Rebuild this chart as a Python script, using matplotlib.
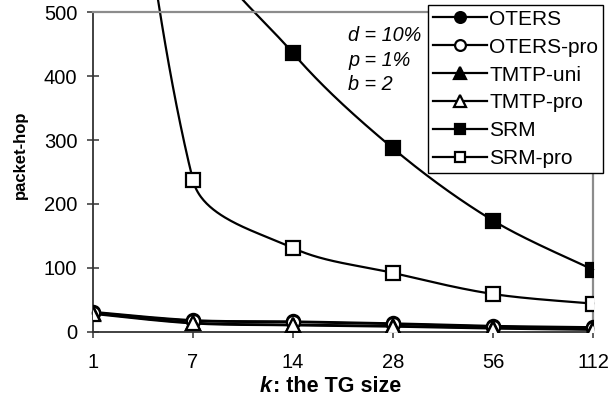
import numpy as np
import matplotlib
matplotlib.use("Agg")
import matplotlib.pyplot as plt
from matplotlib.lines import Line2D
from matplotlib.offsetbox import TextArea, HPacker, AnnotationBbox

plt.rcParams['font.family'] = ['Liberation Sans', 'DejaVu Sans']

# ---- data ----
k_labels = ['1', '7', '14', '28', '56', '112']
oters = [31, 18, 16, 13, 9, 7]
oters_pro = [30, 17, 15, 12, 8, 6]
tmtp_uni = [29, 14, 11, 9, 6, 4]
tmtp_pro = [28, 13, 10, 8, 5, 3]
srm = [2000, 650, 436, 287, 174, 97]
srm_pro = [1400, 237, 131, 92, 59, 44]

series_names = ['OTERS', 'OTERS-pro', 'TMTP-uni', 'TMTP-pro', 'SRM', 'SRM-pro']
series_values = [oters, oters_pro, tmtp_uni, tmtp_pro, srm, srm_pro]
series_markers = ['o', 'o', '^', '^', 's', 's']
series_faces = ['black', 'white', 'black', 'white', 'black', 'white']

W, H = 612, 398
fig = plt.figure(figsize=(W / 100, H / 100), dpi=100)
ax = fig.add_axes([93 / W, 1 - 331.7 / H, 500 / W, 319.4 / H])
ax.set_xlim(0, len(k_labels) - 1)
ax.set_ylim(0, 500)

# screen-space scale used only for the smoothing geometry
XS = 100.0
YS = 319.4 / 500.0


def excel_smooth(vals, n=80):
    pts = np.column_stack([np.arange(len(vals)) * XS, np.asarray(vals, float) * YS])
    m = len(pts)
    xs, ys = [], []
    for i in range(m - 1):
        P0, P1 = pts[i], pts[i + 1]
        d01 = np.linalg.norm(P1 - P0)
        if i > 0:
            prev = pts[i - 1]
            dp = np.linalg.norm(P0 - prev)
            C0 = P0 + (P1 - prev) * d01 / (dp + d01) / 3.0
        else:
            C0 = P0 + (P1 - P0) / 6.0
        if i + 2 < m:
            nxt = pts[i + 2]
            dn = np.linalg.norm(nxt - P1)
            C1 = P1 - (nxt - P0) * d01 / (d01 + dn) / 3.0
        else:
            C1 = P1 - (P1 - P0) / 6.0
        t = np.linspace(0, 1, n)[:, None]
        B = ((1 - t) ** 3) * P0 + 3 * ((1 - t) ** 2) * t * C0 + 3 * (1 - t) * t ** 2 * C1 + t ** 3 * P1
        xs.append(B[:, 0]); ys.append(B[:, 1])
    return np.concatenate(xs) / XS, np.concatenate(ys) / YS


idx = np.arange(len(k_labels))
handles = []
for name, vals, mk, fc in zip(series_names, series_values, series_markers, series_faces):
    sx, sy = excel_smooth(vals)
    ax.plot(sx, sy, color='black', lw=1.6, clip_on=False, zorder=2)
    ms = 9.5 if mk != '^' else 10
    ax.plot(idx, vals, linestyle='none', marker=mk, markersize=ms, markerfacecolor=fc,
            markeredgecolor='black', markeredgewidth=1.6, zorder=3)
    handles.append(Line2D([], [], color='black', lw=1.6, marker=mk, markersize=ms,
                          markerfacecolor=fc, markeredgecolor='black', markeredgewidth=1.6))

# axes styling
for s in ['top', 'right']:
    ax.spines[s].set_color('#8c8c8c')
    ax.spines[s].set_linewidth(1.6)
for s in ['left', 'bottom']:
    ax.spines[s].set_color('#333333')
    ax.spines[s].set_linewidth(1.3)

ax.set_yticks([0, 100, 200, 300, 400, 500])
ax.set_xticks(idx)
ax.set_xticklabels(k_labels)
ax.tick_params(axis='y', direction='inout', length=8.6, width=1.1, color='#333333',
               labelsize=14.5, pad=7)
ax.tick_params(axis='x', direction='out', length=4.3, width=1.1, color='#333333',
               labelsize=14.5, pad=11)

# legend
leg = ax.legend(handles, series_names, loc='upper right',
                bbox_to_anchor=(603 / W, 1 - 5 / H), bbox_transform=fig.transFigure,
                borderaxespad=0, fontsize=15, handlelength=2.6, handletextpad=0.12,
                labelspacing=0.43, borderpad=0.22, markerscale=0.82, numpoints=1,
                fancybox=False, framealpha=1, edgecolor='black')
leg.get_frame().set_linewidth(1.0)
leg.set_zorder(5)

# annotations
for txt, yb in [('d = 10%', 41), ('p = 1%', 66), ('b = 2', 90)]:
    fig.text(348 / W, 1 - yb / H, txt, fontsize=14.3, fontstyle='italic',
             ha='left', va='baseline')

# axis labels
fig.text(20 / W, 1 - 155 / H, 'packet-hop', rotation=90, fontsize=12,
         fontweight='bold', ha='center', va='center')
ta1 = TextArea('k', textprops=dict(fontweight='bold', fontstyle='italic', fontsize=15.5))
ta2 = TextArea(': the TG size', textprops=dict(fontweight='bold', fontsize=15.5))
box = HPacker(children=[ta1, ta2], align='baseline', pad=0, sep=1)
ab = AnnotationBbox(box, (330 / W, 1 - 387 / H), xycoords='figure fraction',
                    frameon=False, box_alignment=(0.5, 0.5), pad=0)
fig.add_artist(ab)

fig.savefig('out.png', dpi=100)
